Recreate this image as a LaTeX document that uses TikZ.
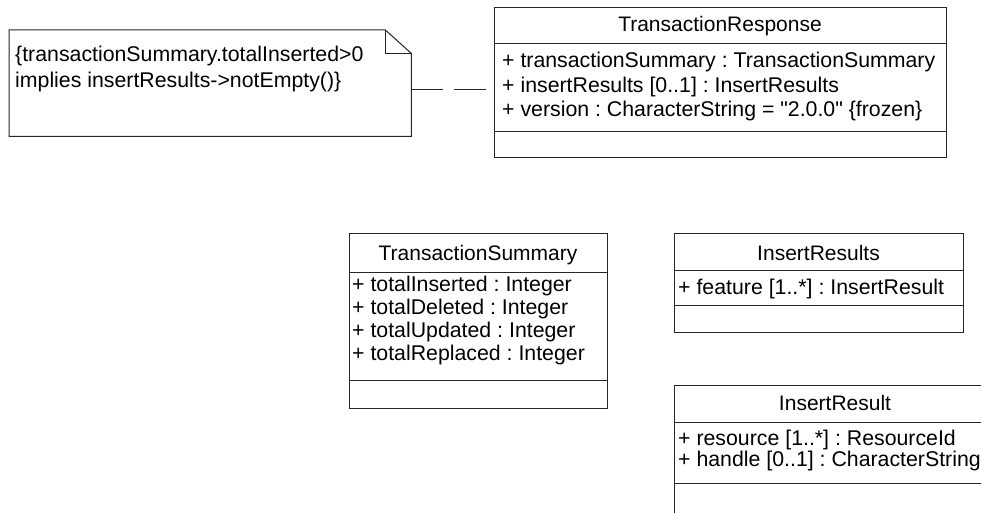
\documentclass[tikz,border=0pt]{standalone}
\usepackage{fontspec}
\setmainfont{Liberation Sans}
\newfontfamily\rawfont{Liberation Sans}
\usetikzlibrary{calc}
\begin{document}
\frenchspacing
\begin{tikzpicture}[x=1pt,y=-1pt,
  umlbox/.style={draw=black!85, line width=1pt, inner sep=0pt, anchor=north west},
  txt/.style={inner sep=0pt, anchor=base west, font=\fontsize{21.3}{25}\selectfont},
  ttl/.style={inner sep=0pt, anchor=base, font=\fontsize{21}{25}\selectfont},
  sepline/.style={draw=black!85, line width=1pt},
  conn/.style={draw=black!85, line width=1pt, dash pattern=on 32pt off 11pt}]
\useasboundingbox (0,0) rectangle (981,513);
\clip (0,0) rectangle (981,513);

% note
\node[inner sep=0pt, minimum width=402pt, minimum height=106pt, anchor=north west] (note) at (9,30) {};
\coordinate (fa) at ($(note.north east)+(-26,0)$);
\coordinate (fb) at ($(note.north east)+(0,23.5)$);
\coordinate (fc) at ($(note.north east)+(-26,23.5)$);
\draw[sepline] (note.north west) -- (fa) -- (fb)
  -- (note.south east) -- (note.south west) -- cycle;
\draw[sepline] (fa) -- (fc) -- (fb);
\node[txt] (n1) at (15,62) {\{transactionSummary.totalInserted>0};
\node[txt] (n2) at (15,87.5) {implies insertResults->notEmpty()\}};

% TransactionResponse
\node[umlbox, minimum width=452pt, minimum height=150pt] (tr) at (494,7) {};
\draw[sepline] (tr.west |- 0,44) -- (tr.east |- 0,44);
\draw[sepline] (tr.west |- 0,132) -- (tr.east |- 0,132);
\node[ttl] (trt) at (720,31.5) {TransactionResponse};
\node[txt] (tra1) at (502,68) {+ transactionSummary : TransactionSummary};
\node[txt] (tra2) at (502,92.5) {+ insertResults [0..1] : InsertResults};
\node[txt] (tra3) at (502,117) {+ version : CharacterString = {\rawfont"2.0.0"} \{frozen\}};

% connector
\coordinate (ly) at (0,90);
\draw[conn] (note.east |- ly) -- (tr.west |- ly);

% TransactionSummary
\node[umlbox, minimum width=258pt, minimum height=175pt] (ts) at (349,233) {};
\draw[sepline] (ts.west |- 0,272) -- (ts.east |- 0,272);
\draw[sepline] (ts.west |- 0,380) -- (ts.east |- 0,380);
\node[ttl] (tst) at (478,260) {TransactionSummary};
\node[txt] (tsa1) at (352,291.7) {+ totalInserted : Integer};
\node[txt] (tsa2) at (352,314.5) {+ totalDeleted : Integer};
\node[txt] (tsa3) at (352,337.5) {+ totalUpdated : Integer};
\node[txt] (tsa4) at (352,360) {+ totalReplaced : Integer};

% InsertResults
\node[umlbox, minimum width=289pt, minimum height=99pt] (irs) at (674,233) {};
\draw[sepline] (irs.west |- 0,270) -- (irs.east |- 0,270);
\draw[sepline] (irs.west |- 0,305) -- (irs.east |- 0,305);
\node[ttl] (irst) at (818.5,260) {InsertResults};
\node[txt] (irsa1) at (678,294) {+ feature [1..*] : InsertResult};

% InsertResult
\node[umlbox, minimum width=322pt, minimum height=150pt] (ir) at (674,385) {};
\draw[sepline] (ir.west |- 0,422) -- (ir.east |- 0,422);
\draw[sepline] (ir.west |- 0,483) -- (ir.east |- 0,483);
\node[ttl] (irt) at (835,410.5) {InsertResult};
\node[txt] (ira1) at (678,445) {+ resource [1..*] : ResourceId};
\node[txt] (ira2) at (678,466.5) {+ handle [0..1] : CharacterString};
\end{tikzpicture}
\end{document}
